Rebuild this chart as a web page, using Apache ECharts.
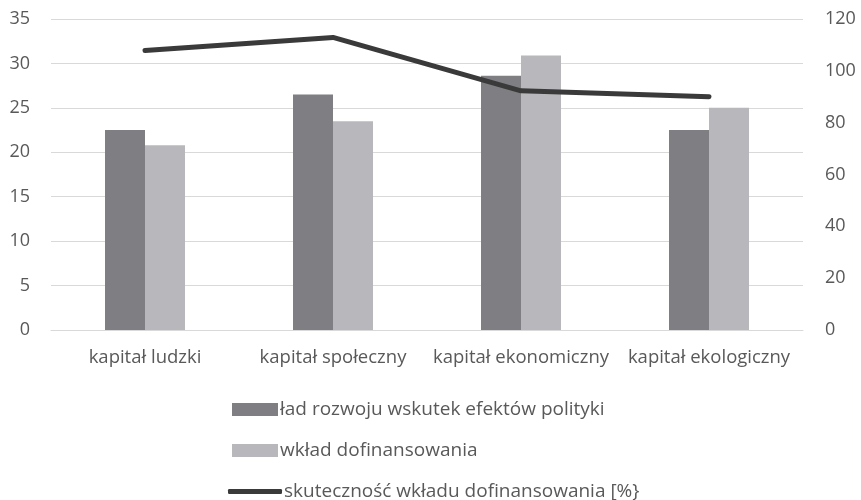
<!DOCTYPE html>
<html>
<head>
<meta charset="utf-8">
<script src="https://cdn.jsdelivr.net/npm/echarts@6/dist/echarts.min.js"></script>
<style>
html, body { margin: 0; padding: 0; background: #fff; }
#chart { width: 861px; height: 500px; }
</style>
</head>
<body>
<div id="chart"></div>
<script>
// dane
var categories = ['kapitał ludzki', 'kapitał społeczny', 'kapitał ekonomiczny', 'kapitał ekologiczny'];
var ladRozwoju = [22.5, 26.5, 28.6, 22.5];
var wkladDofin = [20.8, 23.5, 30.9, 25.0];
var skutecznosc = [107.8, 112.9, 92.3, 90.0];
var leftTicks = [0, 35, 5];
var rightTicks = [0, 120, 20];

var names = ['ład rozwoju wskutek efektów polityki', 'wkład dofinansowania', 'skuteczność wkładu dofinansowania [%}'];
var textColor = '#595959';
var font = 'Open Sans';

var chart = echarts.init(document.getElementById('chart'));

function legendAt(name, left, top, icon, w, h) {
  return {
    data: [{ name: name, icon: icon }],
    orient: 'vertical',
    left: left,
    top: top,
    itemWidth: w,
    itemHeight: h,
    itemGap: 0,
    textStyle: { color: textColor, fontSize: 19, fontFamily: font, padding: [0, 0, 0, -3] },
    selectedMode: false
  };
}

chart.setOption({
  animation: false,
  textStyle: { fontFamily: font },
  grid: { left: 51, right: 58, top: 19, bottom: 170 },
  legend: [
    legendAt(names[0], 227, 395, 'rect', 46, 13),
    legendAt(names[1], 227, 436, 'rect', 46, 13),
    legendAt(names[2], 223, 477, 'roundRect', 54, 5)
  ],
  xAxis: {
    type: 'category',
    data: categories,
    axisLine: { show: true, lineStyle: { color: '#d9d9d9', width: 1 } },
    axisTick: { show: false },
    axisLabel: { color: textColor, fontSize: 18.5, margin: 18, interval: 0 }
  },
  yAxis: [
    {
      type: 'value',
      min: leftTicks[0], max: leftTicks[1], interval: leftTicks[2],
      axisLine: { show: false },
      axisTick: { show: false },
      axisLabel: { color: textColor, fontSize: 18, margin: 21 },
      splitLine: { lineStyle: { color: '#d9d9d9', width: 1 } }
    },
    {
      type: 'value',
      min: rightTicks[0], max: rightTicks[1], interval: rightTicks[2],
      axisLine: { show: false },
      axisTick: { show: false },
      axisLabel: { color: textColor, fontSize: 18, margin: 22 },
      splitLine: { show: false }
    }
  ],
  series: [
    {
      name: names[0],
      type: 'bar',
      data: ladRozwoju,
      barWidth: 40,
      barGap: '0%',
      itemStyle: { color: '#7f7f83' }
    },
    {
      name: names[1],
      type: 'bar',
      data: wkladDofin,
      barWidth: 40,
      itemStyle: { color: '#b8b8bc' }
    },
    {
      name: names[2],
      type: 'line',
      yAxisIndex: 1,
      data: skutecznosc,
      symbol: 'none',
      lineStyle: { color: '#3a3a3a', width: 5, cap: 'round', join: 'round' },
      itemStyle: { color: '#3a3a3a' }
    }
  ]
});
</script>
</body>
</html>
